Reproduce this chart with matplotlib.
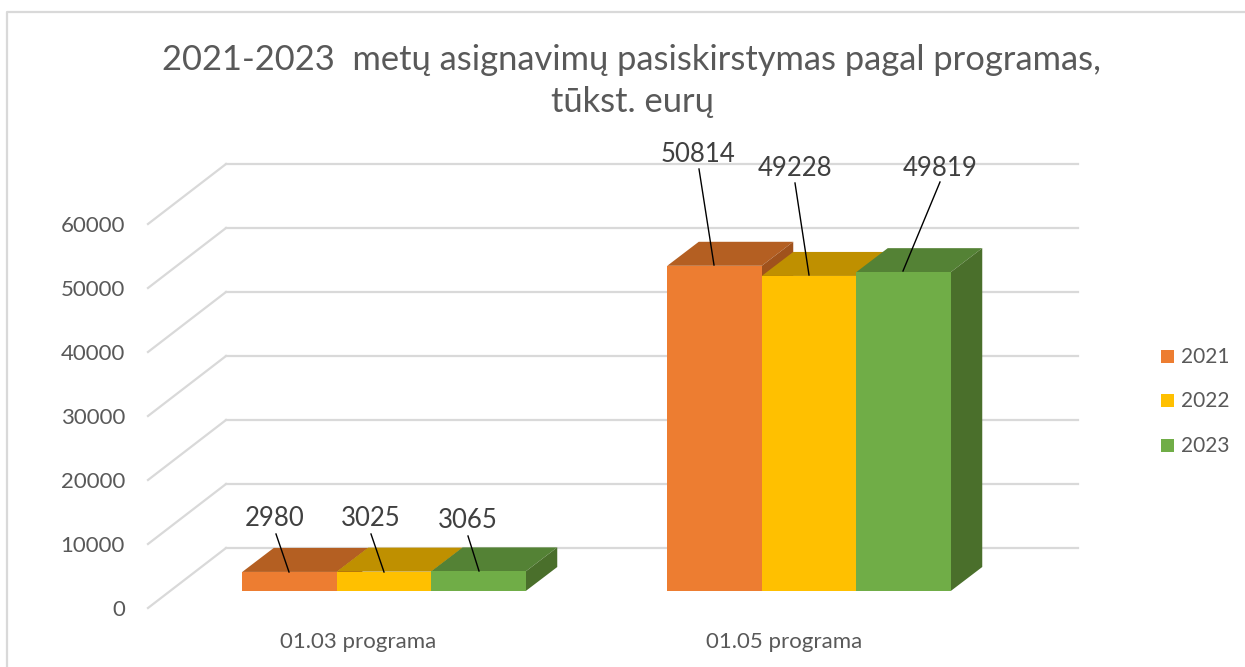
import matplotlib
matplotlib.use("Agg")
import matplotlib.pyplot as plt
from matplotlib.patches import Polygon, Rectangle

plt.rcParams['font.family'] = ['Lato', 'DejaVu Sans']

# Donnees
programmes = ['01.03 programa', '01.05 programa']
annees = ['2021', '2022', '2023']
valeurs = {
    '2021': [2980, 50814],
    '2022': [3025, 49228],
    '2023': [3065, 49819],
}
graduations = [0, 10000, 20000, 30000, 40000, 50000, 60000]
titre = '2021-2023  metų asignavimų pasiskirstymas pagal programas,\ntūkst. eurų'

couleur_face = {'2021': '#ED7D31', '2022': '#FFC000', '2023': '#70AD47'}
couleur_dessus = {'2021': '#B45F22', '2022': '#BF9000', '2023': '#548235'}
couleur_cote = {'2021': '#A0521C', '2022': '#A67C00', '2023': '#4A6F2B'}

W, H = 1245, 667
px_par_val = 0.0064   # pixels par unite
x_0, x_pas = 384, 425  # centre du premier groupe, distance entre groupes
y_0 = 591              # base des barres
largeur = 94.5 / x_pas

# passage pixels -> donnees
def X(px):
    return (px - x_0) / x_pas

def Y(py):
    return (y_0 - py) / px_par_val

fig = plt.figure(figsize=(W / 100, H / 100), dpi=100)
ax = fig.add_axes([0, 0, 1, 1])
ax.set_xlim(X(0), X(W))
ax.set_ylim(Y(H), Y(0))
ax.axis('off')

# cadre
ax.plot([X(7), X(7), X(W)], [Y(H), Y(12), Y(12)], color='#D9D9D9', lw=1.6)

# grille du fond + diagonales
gris = '#D9D9D9'
for v in graduations:
    y_fond = Y(548) + v
    y_face = Y(608) + v
    ax.plot([X(226), X(1078)], [y_fond, y_fond], color=gris, lw=1.6, zorder=1)
    ax.plot([X(148), X(226)], [y_face, y_fond], color=gris, lw=1.6, zorder=1)
    ax.text(X(125), y_face - 2 / px_par_val, str(v), ha='right', va='center',
            fontsize=16, color='#595959')

# barres 3D
dx = 31.5 / x_pas
dy = 24 / px_par_val
z = 3
for i, prog in enumerate(programmes):
    for j, an in enumerate(annees):
        v = valeurs[an][i]
        g = i + (j - 1) * largeur - largeur / 2
        d = g + largeur
        ax.add_patch(Polygon([(g, v), (d, v), (d + dx, v + dy), (g + dx, v + dy)],
                             facecolor=couleur_dessus[an], edgecolor='none', zorder=z))
        ax.add_patch(Polygon([(d, 0), (d + dx, dy), (d + dx, v + dy), (d, v)],
                             facecolor=couleur_cote[an], edgecolor='none', zorder=z))
        ax.bar(i + (j - 1) * largeur, v, width=largeur, color=couleur_face[an], zorder=z + 0.5)
        z += 1

# etiquettes et traits de rappel
etiquettes = [
    ('2021', 0, 275, 519, 276, 534, 289, 572),
    ('2022', 0, 371, 519, 371, 534, 384, 572),
    ('2023', 0, 468, 521, 468, 536, 479, 571),
    ('2021', 1, 698, 154, 699, 169, 714, 265),
    ('2022', 1, 795, 168, 795, 183, 809, 275),
    ('2023', 1, 940, 168, 940, 182, 903, 271),
]
for an, i, tx, ty, x1, y1, x2, y2 in etiquettes:
    ax.plot([X(x1), X(x2)], [Y(y1), Y(y2)], color='black', lw=1.0, zorder=50)
    ax.text(X(tx), Y(ty), str(valeurs[an][i]), ha='center', va='center',
            fontsize=18.5, color='#404040', zorder=51)

# categories
ax.text(X(358), Y(642), programmes[0], ha='center', va='center', fontsize=16, color='#595959')
ax.text(X(784), Y(642), programmes[1], ha='center', va='center', fontsize=16, color='#595959')

# legende
for an, y_leg in zip(annees, [356, 400, 445]):
    ax.add_patch(Rectangle((X(1161), Y(y_leg + 6.5)), 13 / x_pas, 13 / px_par_val,
                           facecolor=couleur_face[an], edgecolor='none'))
    ax.text(X(1181), Y(y_leg + 1), an, ha='left', va='center', fontsize=15, color='#595959')

# titre
ax.text(X(632), Y(81), titre, ha='center', va='center', fontsize=24.8, color='#595959', linespacing=1.36)

fig.savefig('out.png', dpi=100)
